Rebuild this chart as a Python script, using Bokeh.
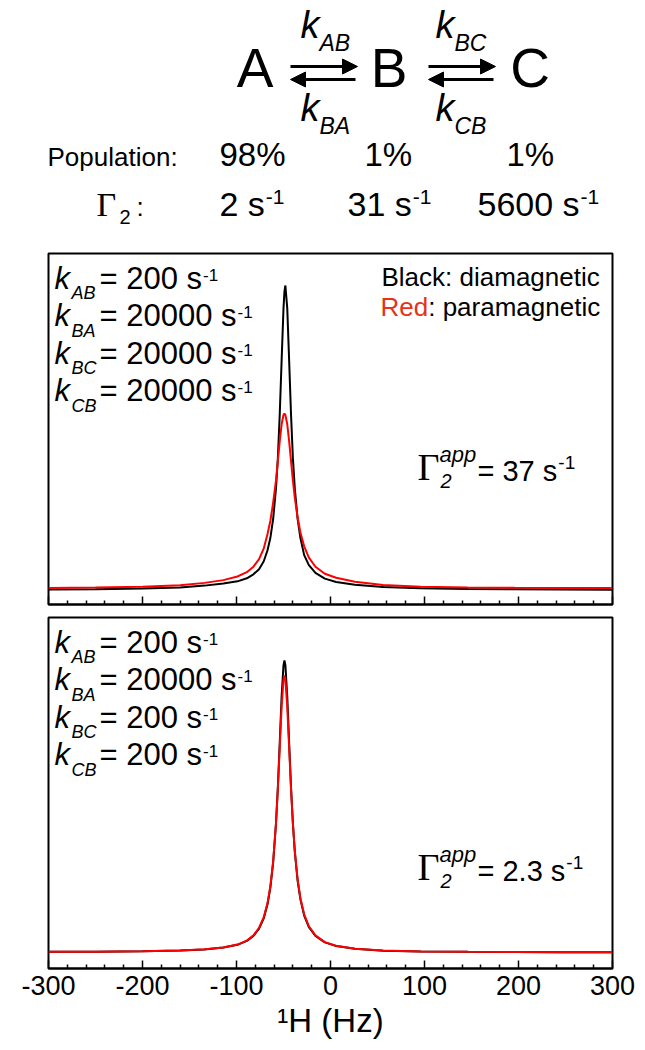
from bokeh.plotting import figure
from bokeh.models import Range1d, Label, Arrow, NormalHead, FixedTicker
from bokeh.layouts import column
from bokeh.embed import file_html
from bokeh.resources import INLINE

# ---------------- data ----------------
freq_hz = [-300, -250, -200, -160, -134, -114, -99, -89, -82, -76, -71, -67, -64, -61,
           -58, -56, -54, -52, -50, -49, -48, -46, -44, -42, -40, -38, -35, -32, -28,
           -23, -16, -6, 6, 26, 56, 96, 146, 196, 246, 300]

# upper panel (kBC = kCB = 20000 s-1)
dia_fast = [0.35, 0.45, 0.65, 1.0, 1.6, 2.3, 3.0, 4.0, 5.3, 7.0, 9.6, 13.2, 17.2, 23.5,
            33.5, 43.4, 57.7, 75.4, 92.5, 98.0, 100.0, 92.5, 75.4, 57.7, 43.4, 33.5,
            23.5, 17.2, 11.6, 8.3, 5.8, 3.9, 2.8, 1.9, 1.15, 0.75, 0.5, 0.4, 0.3, 0.25]
para_fast = [0.85, 0.95, 1.2, 1.7, 2.5, 3.4, 4.6, 6.0, 7.8, 10.3, 13.8, 18.5, 22.8, 28.8,
             36.0, 42.5, 49.0, 54.5, 57.6, 58.0, 57.6, 54.5, 49.0, 42.5, 36.0, 30.5,
             24.0, 19.0, 14.5, 10.8, 7.8, 5.5, 4.2, 2.9, 1.8, 1.25, 1.0, 0.9, 0.85, 0.8]

# lower panel (kBC = kCB = 200 s-1)
dia_slow = [0.2, 0.25, 0.4, 0.65, 1.0, 1.6, 2.5, 3.8, 5.4, 7.8, 11.2, 15.8, 21.2, 29.5,
            42.2, 54.2, 68.8, 83.9, 94.2, 95.7, 94.2, 83.9, 68.8, 54.2, 42.2, 33.1,
            23.6, 17.4, 12.1, 8.3, 5.4, 3.3, 2.1, 1.2, 0.6, 0.35, 0.2, 0.15, 0.1, 0.1]
para_slow = [0.2, 0.25, 0.4, 0.65, 1.05, 1.65, 2.6, 3.9, 5.6, 8.1, 11.6, 16.2, 21.7, 29.9,
             42.3, 53.6, 67.1, 80.5, 89.5, 90.8, 89.5, 80.5, 67.1, 53.6, 42.3, 33.4,
             24.0, 17.8, 12.5, 8.6, 5.6, 3.4, 2.2, 1.2, 0.65, 0.35, 0.2, 0.15, 0.1, 0.1]

tick_values = [-300, -200, -100, 0, 100, 200, 300]
tick_labels = ["-300", "-200", "-100", "0", "100", "200", "300"]
minor_tick_values = [-280, -260, -240, -220, -180, -160, -140, -120, -80, -60, -40, -20,
                     20, 40, 60, 80, 120, 140, 160, 180, 220, 240, 260, 280]

states = ["A", "B", "C"]
populations = ["98%", "1%", "1%"]
gamma2_rates = ["2", "31", "5600"]
rate_names = ["AB", "BA", "BC", "CB"]
fast_rates = ["200", "20000", "20000", "20000"]
slow_rates = ["200", "20000", "200", "200"]
gamma_app = ["37", "2.3"]

# ---------------- styling helpers ----------------
SANS = "Liberation Sans"
SERIF = "Liberation Serif"
RED_TEXT = "#e63217"
PAGE_W = 645
BASE_SHIFT = 0.39   # label anchor correction (fraction of font size)
ADV = {"0": .556, "1": .556, "2": .556, "3": .556, "4": .556, "5": .556, "6": .556,
       "7": .556, "8": .556, "9": .556, " ": .278, "=": .584, "s": .5, ".": .278,
       "-": .333, "R": .722, "e": .556, "d": .556}


def text_width(s, size):
    return sum(ADV[c] for c in s) * size


def make_label(x, y, text, size, font=SANS, style="normal", color="black", align="left"):
    return Label(x=x, y=y, text=text, text_font=font, text_font_size=f"{size}px",
                 text_font_style=style, text_color=color, text_align=align,
                 text_baseline="alphabetic")


# ---------------- top scheme ----------------
TOP_H = 247
top = figure(width=PAGE_W, height=TOP_H, x_range=Range1d(0, PAGE_W),
             y_range=Range1d(TOP_H, 0), x_axis_type=None, y_axis_type=None,
             toolbar_location=None, output_backend="svg", min_border=0,
             outline_line_color=None, frame_align=False)


def tlabel(X, Y, text, size, **kw):
    top.add_layout(make_label(X, Y - BASE_SHIFT * size, text, size, **kw))


for cx, st in zip([254.5, 388.5, 529.5], states):
    tlabel(cx, 89, st, 55, align="center")

for x1, x2 in [(290, 357), (428, 495)]:
    top.add_layout(Arrow(end=NormalHead(size=15, fill_color="black", line_color="black"),
                         x_start=x1, y_start=66, x_end=x2, y_end=66,
                         line_width=3, line_color="black"))
    top.add_layout(Arrow(end=NormalHead(size=15, fill_color="black", line_color="black"),
                         x_start=x2 - 2, y_start=79, x_end=x1, y_end=79,
                         line_width=3, line_color="black"))

k_pos = {"AB": (300, 39), "BA": (300, 122), "BC": (435, 39), "CB": (435, 122)}
for name in rate_names:
    kx, kb = k_pos[name]
    tlabel(kx, kb, "k", 38, style="italic")
    tlabel(kx + 19, kb + 12, name, 23, style="italic")

tlabel(47, 167, "Population:", 26)
for lx, pop in zip([219, 364, 506], populations):
    tlabel(lx, 167, pop, 33)

tlabel(96, 217, "Γ", 34, font=SERIF)
tlabel(119, 224, "2", 20)
tlabel(136, 217, ":", 26)
for lx, g in zip([219, 347, 477], gamma2_rates):
    main = f"{g} s"
    tlabel(lx, 217, main, 34)
    tlabel(lx + text_width(main, 34) + 1, 205, "-1", 21)


# ---------------- spectra panels ----------------
FRAME_L, FRAME_W = 48, 564


def make_panel(h, top_b, bot_b, frame_top, frame_bot, y0, y1, dia, para, rates, gapp,
               show_labels, gamma_base):
    p = figure(width=PAGE_W, height=h, x_range=Range1d(-300, 300), y_range=Range1d(y0, y1),
               y_axis_type=None, toolbar_location=None, output_backend="svg",
               min_border_left=FRAME_L, min_border_right=PAGE_W - FRAME_L - FRAME_W,
               min_border_top=top_b, min_border_bottom=bot_b,
               outline_line_color="black", outline_line_width=2,
               background_fill_color="white", border_fill_color="white",
               frame_align=False)
    p.grid.visible = False
    ax = p.xaxis[0]
    ax.ticker = FixedTicker(ticks=tick_values, minor_ticks=minor_tick_values)
    ax.major_tick_in = 8
    ax.major_tick_out = 0
    ax.minor_tick_in = 4
    ax.minor_tick_out = 0
    ax.major_tick_line_width = 1.5
    ax.minor_tick_line_width = 1.5
    ax.axis_line_width = 2
    if show_labels:
        ax.major_label_overrides = dict(zip(tick_values, tick_labels))
        ax.major_label_text_font = SANS
        ax.major_label_text_font_size = "27px"
        ax.major_label_text_color = "black"
        ax.major_label_standoff = 7
        ax.axis_label = "¹H (Hz)"
        ax.axis_label_text_font = SANS
        ax.axis_label_text_font_size = "33px"
        ax.axis_label_text_font_style = "normal"
        ax.axis_label_text_color = "black"
        ax.axis_label_standoff = 4
    else:
        ax.major_label_overrides = {v: "" for v in tick_values}
        ax.major_label_text_font_size = "0px"
        ax.major_label_standoff = 0

    p.line(freq_hz, dia, line_color="black", line_width=2)
    p.line(freq_hz, para, line_color="#ff0000", line_width=2)

    def plabel(X, Y, text, size, **kw):
        Yb = Y - BASE_SHIFT * size
        x = -300 + (X - FRAME_L) * 600 / FRAME_W
        y = y0 + (frame_bot - Yb) * (y1 - y0) / (frame_bot - frame_top)
        p.add_layout(make_label(x, y, text, size, **kw))

    for i, name in enumerate(rate_names):
        B = frame_top + 37 + 37.5 * i
        plabel(54, B, "k", 31, style="italic")
        plabel(71, B + 10, name, 18, style="italic")
        main = f"= {rates[i]} s"
        plabel(99, B, main, 31)
        plabel(99 + text_width(main, 31) + 1, B - 9, "-1", 17)

    G = gamma_base
    plabel(417, G, "Γ", 38, font=SERIF)
    plabel(440, G + 7, "2", 20, style="italic")
    plabel(439, G - 19, "app", 22, style="italic")
    main = f"= {gapp} s"
    plabel(477, G, main, 29)
    plabel(477 + text_width(main, 29) + 1, G - 12, "-1", 19)
    return p, plabel


p1, lab1 = make_panel(363, 6, 6, 253, 604, -4.59, 110.5, dia_fast, para_fast,
                      fast_rates, gamma_app[0], False, 481.7)
lab1(381, 287, "Black: diamagnetic", 26)
lab1(380, 317, "Red", 26, color=RED_TEXT)
lab1(380 + text_width("Red", 26), 317, ": paramagnetic", 26)

p2, lab2 = make_panel(438, 7, 80, 617, 968, -5.25, 109.8, dia_slow, para_slow,
                      slow_rates, gamma_app[1], True, 881.7)

layout = column(top, p1, p2, spacing=0)
open("out.html", "w").write(file_html(layout, INLINE))
